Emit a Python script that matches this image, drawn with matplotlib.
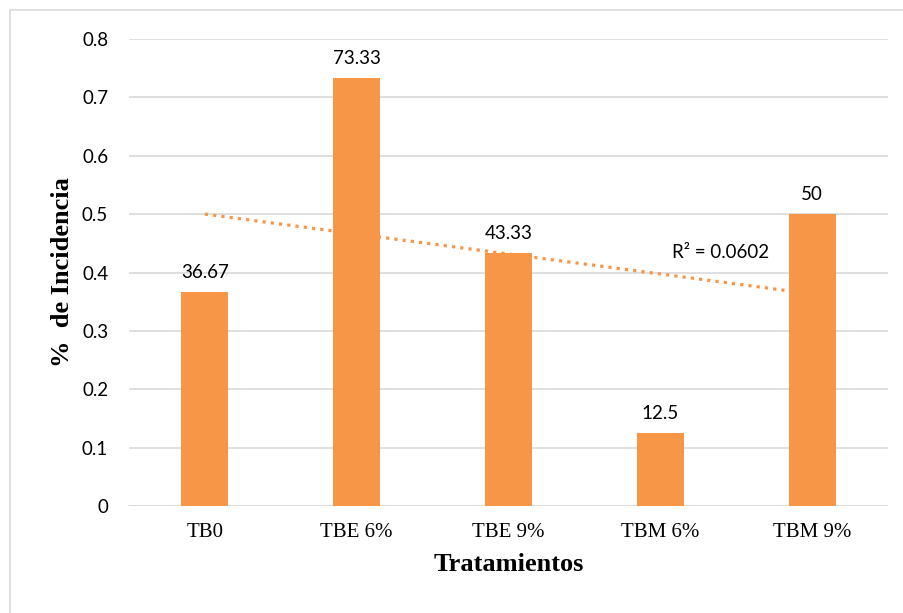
import numpy as np
from matplotlib import pyplot as plt
from matplotlib.patches import Rectangle

tratamientos = ["TB0", "TBE 6%", "TBE 9%", "TBM 6%", "TBM 9%"]
incidencia = [0.3667, 0.7333, 0.4333, 0.125, 0.5]
etiquetas = ["36.67", "73.33", "43.33", "12.5", "50"]
r2_texto = "R² = 0.0602"

naranja = "#F79646"
sans = ["Lato", "DejaVu Sans"]
serif = ["Liberation Serif", "DejaVu Serif"]

fig = plt.figure(figsize=(9.04, 6.13), dpi=100)
ax = fig.add_axes([129 / 904, 1 - 506 / 613, 759 / 904, 467 / 613])

fig.patches.append(Rectangle((10 / 904, -0.1), 1.2, 1 - 10 / 613 + 0.1,
                             transform=fig.transFigure, fill=False,
                             edgecolor="#d9d9d9", linewidth=1.2))

x = np.arange(len(tratamientos))
ax.bar(x, incidencia, width=0.31, color=naranja, zorder=3)

for xi, yi, txt in zip(x, incidencia, etiquetas):
    ax.annotate(txt, (xi, yi), xytext=(0, 8), textcoords="offset points",
                ha="center", va="bottom", fontsize=13.5, family=sans, color="#000000")

# linea de tendencia lineal
m, b = np.polyfit(x, incidencia, 1)
ax.plot([x[0], x[-1]], [b + m * x[0], b + m * x[-1]], linestyle=(0, (1, 1.6)),
        color=naranja, linewidth=2.3, zorder=4)
ax.text(3.4, 0.42, r2_texto, fontsize=13.5, family=sans, ha="center", va="bottom")

ax.set_xlim(-0.5, 4.5)
ax.set_ylim(0, 0.8)
ax.set_yticks(np.arange(0, 0.81, 0.1))
ax.set_yticklabels(["0", "0.1", "0.2", "0.3", "0.4", "0.5", "0.6", "0.7", "0.8"],
                   family=sans, fontsize=13.5)
ax.set_xticks(x)
ax.set_xticklabels(tratamientos, family=serif, fontsize=15)
ax.tick_params(axis="both", length=0)
ax.tick_params(axis="y", pad=15)
ax.tick_params(axis="x", pad=12)
ax.grid(axis="y", color="#d9d9d9", linewidth=1.2, zorder=0)
for s in ax.spines.values():
    s.set_visible(False)

ax.set_xlabel("Tratamientos", family=serif, fontsize=19, fontweight="bold", labelpad=8)
ax.set_ylabel("%  de Incidencia", family=serif, fontsize=19, fontweight="bold", labelpad=6)

fig.savefig("out.png", dpi=100)
